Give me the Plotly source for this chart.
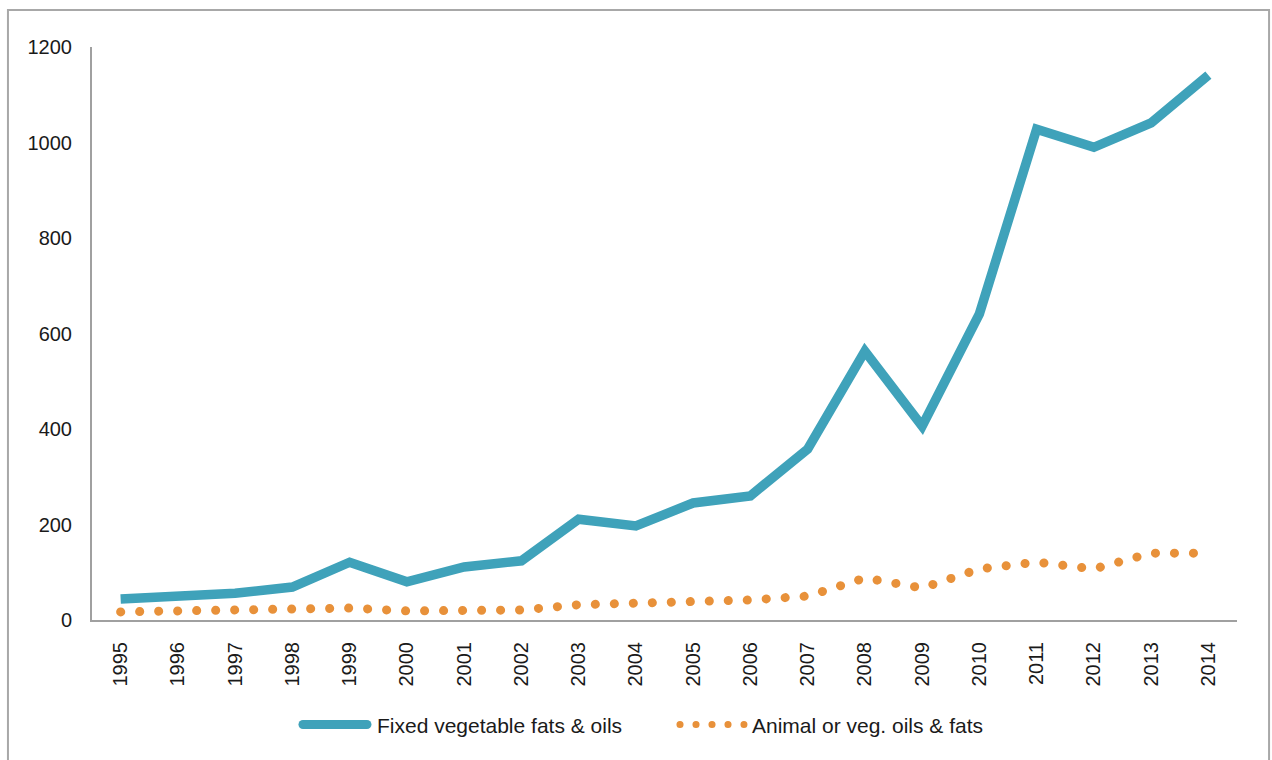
import plotly.graph_objects as go

years = [str(y) for y in range(1995, 2015)]
fixed_veg = [44, 50, 56, 69, 121, 80, 111, 124, 211, 197, 245, 260, 358, 563, 406, 641, 1028, 990, 1041, 1141]
animal_veg = [17, 19, 20, 25, 25, 19, 21, 21, 32, 35, 40, 42, 50, 88, 67, 107, 121, 107, 140, 140]

TEAL = "#3fa2ba"
ORANGE = "#e8913a"
FONT = "Liberation Sans, Arial, sans-serif"

fig = go.Figure()
fig.add_trace(go.Scatter(x=years, y=fixed_veg, mode="lines", name="Fixed vegetable fats & oils",
                         line=dict(color=TEAL, width=9.5)))
fig.add_trace(go.Scatter(x=years, y=animal_veg, mode="lines", name="Animal or veg. oils & fats",
                         line=dict(color=ORANGE, width=9, dash="8px,8px")))

fig.update_layout(
    width=1272, height=760,
    margin=dict(l=92, r=35, t=47, b=140),
    paper_bgcolor="white", plot_bgcolor="white",
    font=dict(family=FONT, size=20, color="#1a1a1a"),
    showlegend=True,
    legend=dict(orientation="h", x=0.179, xanchor="left", y=-0.183, yanchor="middle",
                font=dict(size=21, color="#1a1a1a"), itemwidth=70,
                entrywidth=290, entrywidthmode="pixels"),
    xaxis=dict(type="category", range=[-0.5, 19.5], showgrid=False, showline=True, linecolor="#a0a0a0",
               linewidth=2, tickangle=-90, ticks="", ticklabelstandoff=12, tickfont=dict(size=20)),
    yaxis=dict(range=[0, 1200], dtick=200, showgrid=False, showline=True, linecolor="#a0a0a0",
               linewidth=2, ticks="", zeroline=False, ticklabelstandoff=14, tickfont=dict(size=20)),
    shapes=[dict(type="rect", xref="paper", yref="paper", x0=-0.0734, x1=1.028, y0=-0.26, y1=1.0646,
                 line=dict(color="#a8a8a8", width=2), fillcolor="rgba(0,0,0,0)", layer="below")],
)

post = """
document.body.style.margin = '0';
var gd = document.getElementById('{plot_id}');
function fixDots(){
  var traces = gd.querySelectorAll('.scatterlayer .trace');
  if (traces.length > 1) {
    traces[1].querySelectorAll('path.js-line').forEach(function(p){
      p.style.strokeLinecap = 'round';
      p.style.strokeDasharray = '0.1px,18.9px';
    });
  }
  var leg = gd.querySelectorAll('.legend .traces');
  if (leg.length > 0) {
    leg[0].querySelectorAll('path.js-line').forEach(function(p){
      p.setAttribute('d', 'M6,0h64');
      p.style.strokeLinecap = 'round';
      p.style.strokeWidth = '9px';
    });
  }
  if (leg.length > 1) {
    leg[1].querySelectorAll('path.js-line').forEach(function(p){
      p.setAttribute('d', 'M8,0h64');
      p.style.strokeLinecap = 'round';
      p.style.strokeDasharray = '0.1px,15.9px';
      p.style.strokeWidth = '7px';
    });
  }
}
fixDots();
setTimeout(fixDots, 50);
gd.on && gd.on('plotly_afterplot', fixDots);
"""

fig.write_html("out.html", post_script=post, config={"displayModeBar": False})
